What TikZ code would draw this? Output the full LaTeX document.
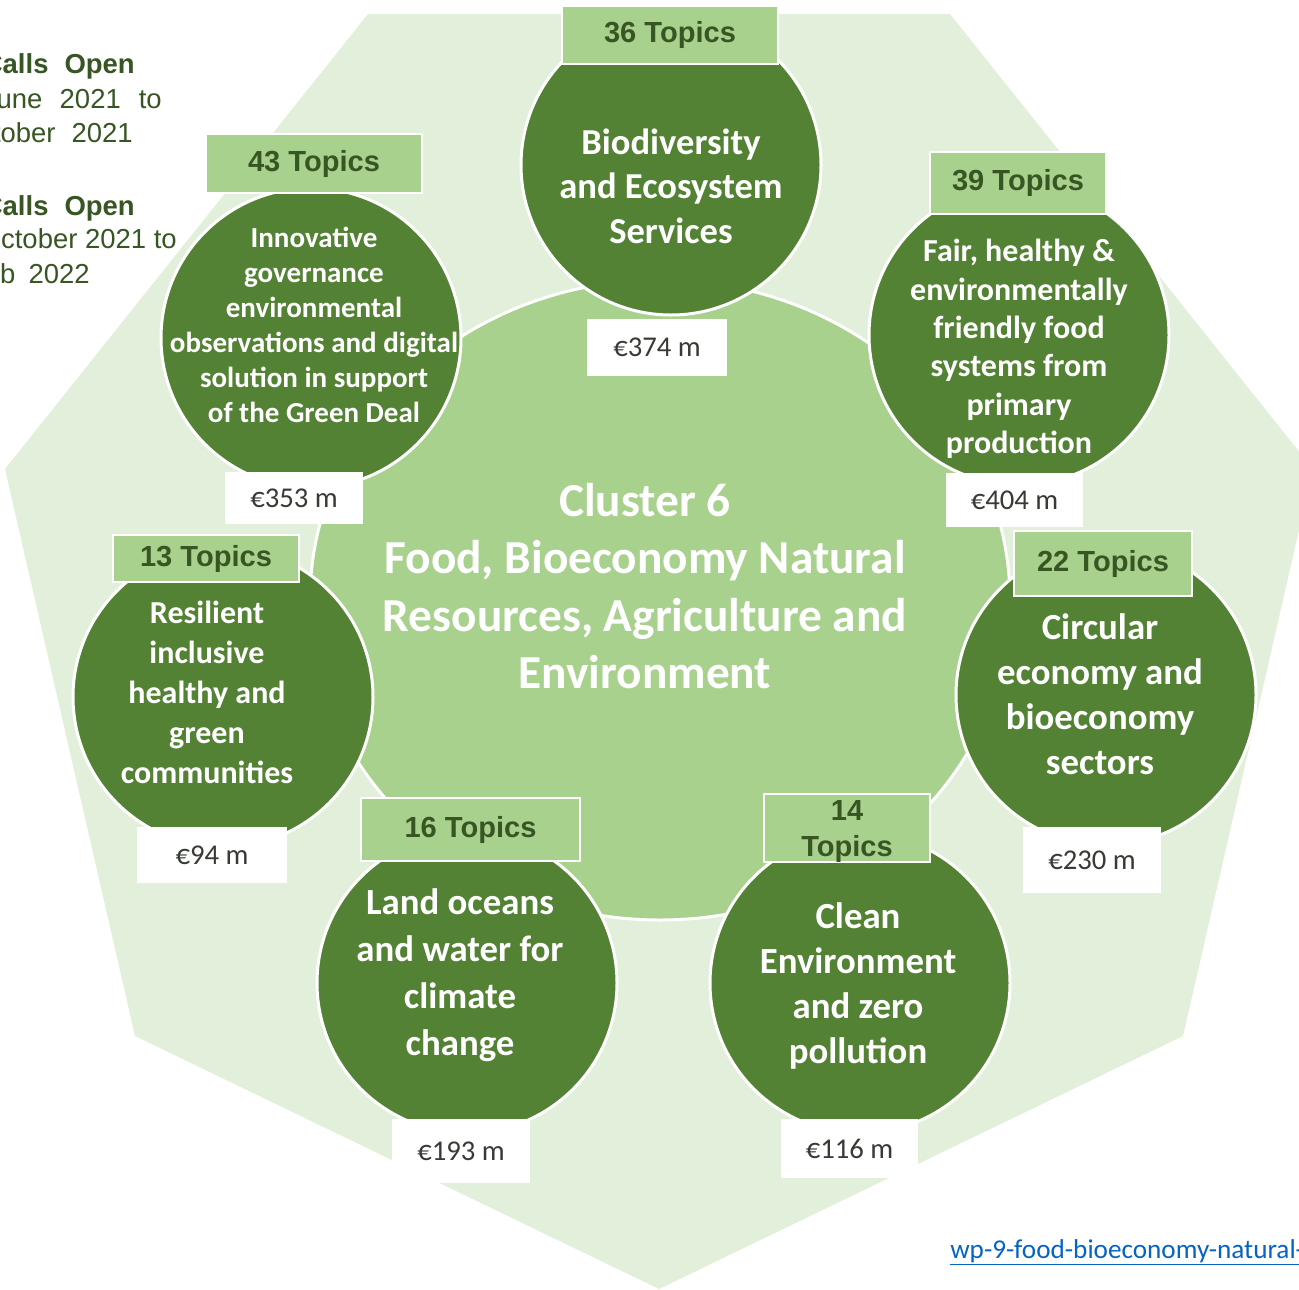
\documentclass[tikz,border=0pt]{standalone}
\usepackage{fontspec}
\setmainfont{Carlito}
\newfontfamily\arialf{Liberation Sans}
\usetikzlibrary{shapes.geometric}
\definecolor{bgl}{HTML}{E2EFDA}
\definecolor{midg}{HTML}{A9D18E}
\definecolor{darkg}{HTML}{548235}
\definecolor{txtg}{HTML}{375623}
\definecolor{moneyc}{HTML}{363B33}
\definecolor{linkc}{HTML}{0563C1}
\newcommand\topicfont{\arialf\bfseries\fontsize{21.8}{27}\selectfont}
\newcommand\moneyfont{\fontsize{21.5}{26}\selectfont}
\newcommand\callsfont{\arialf\fontsize{20.6}{26}\selectfont}
\newcommand\cfont[2]{\bfseries\fontsize{#1}{#2}\selectfont}
\begin{document}
\begin{tikzpicture}[x=0.75pt,y=-0.75pt,
  circ/.style={circle, fill=darkg, draw=white, line width=2.25pt, minimum size=225pt, inner sep=0pt},
  midell/.style={ellipse, fill=midg, draw=white, line width=2.25pt, minimum width=525pt, minimum height=480pt, inner sep=0pt},
  topicbox/.style={rectangle, fill=midg, draw=white, line width=1.6pt, inner sep=0pt, font=\topicfont, text=txtg, align=center},
  moneybox/.style={rectangle, fill=white, inner sep=0pt, font=\moneyfont, text=moneyc},
  ctext/.style={align=center, text=white, inner sep=0pt},
  calls/.style={anchor=base east, text=txtg, inner sep=0pt, font=\callsfont},
]
\useasboundingbox (0,0) rectangle (1299,1289);
\clip (0,0) rectangle (1299,1289);
% background heptagon
\fill[bgl] (368,14) -- (950,14) -- (1313,469) -- (1183,1036) -- (659,1289) -- (135,1036) -- (5,469) -- cycle;
% central shape
\node[midell] (mid) at (660,600) {};
% theme circles
\node[circ] (c1) at (671,165) {};
\node[circ] (c2) at (1019,335) {};
\node[circ] (c3) at (1106,695) {};
\node[circ] (c4) at (860,983) {};
\node[circ] (c5) at (467,983) {};
\node[circ] (c6) at (223,697) {};
\node[circ] (c7) at (311,338) {};
% topic boxes
\node[topicbox, minimum width=216*0.75pt, minimum height=58*0.75pt] (tp1) at (670,35) {36 Topics};
\node[topicbox, minimum width=216*0.75pt, minimum height=59*0.75pt] (tp7) at (314,163.5) {43 Topics};
\node[topicbox, minimum width=176*0.75pt, minimum height=62*0.75pt] (tp2) at (1018,183) {39 Topics};
\node[topicbox, minimum width=178*0.75pt, minimum height=65*0.75pt] (tp3) at (1103,563.5) {22 Topics};
\node[topicbox, minimum width=166*0.75pt, minimum height=68*0.75pt] (tp4) at (847,828) {};
\node[font=\topicfont, text=txtg, align=center, inner sep=0pt] (tp4t) at (847,832) {14\\Topics};
\node[topicbox, minimum width=219*0.75pt, minimum height=63*0.75pt] (tp5) at (470.5,829.5) {16 Topics};
\node[topicbox, minimum width=186*0.75pt, minimum height=47*0.75pt] (tp6) at (206,558.5) {13 Topics};
% money boxes
\node[moneybox, minimum width=140*0.75pt, minimum height=57*0.75pt] (m1) at (657,347.5) {€374 m};
\node[moneybox, minimum width=138*0.75pt, minimum height=52*0.75pt] (m7) at (294,498) {€353 m};
\node[moneybox, minimum width=137*0.75pt, minimum height=54*0.75pt] (m2) at (1014.5,500) {€404 m};
\node[moneybox, minimum width=138*0.75pt, minimum height=66*0.75pt] (m3) at (1092,860) {€230 m};
\node[moneybox, minimum width=137*0.75pt, minimum height=59*0.75pt] (m4) at (849.5,1148.5) {€116 m};
\node[moneybox, minimum width=138*0.75pt, minimum height=64*0.75pt] (m5) at (461,1151) {€193 m};
\node[moneybox, minimum width=150*0.75pt, minimum height=56*0.75pt] (m6) at (212,855) {€94 m};
% circle texts
\node[ctext, font=\cfont{27.4}{33.4}] (t1) at (671,186) {Biodiversity\\and Ecosystem\\Services};
\node[ctext, font=\cfont{24}{28.8}] (t2) at (1019,349) {Fair, healthy \&\\environmentally\\friendly food\\systems from\\primary\\production};
\node[ctext, font=\cfont{27.6}{33.75}] (t3) at (1100,694) {Circular\\economy and\\bioeconomy\\sectors};
\node[ctext, font=\cfont{27.6}{33.75}] (t4) at (858,985.5) {Clean\\Environment\\and zero\\pollution};
\node[ctext, font=\cfont{27.6}{35.25}] (t5) at (460,975.5) {Land oceans\\and water for\\climate\\change};
\node[ctext, font=\cfont{24}{30}] (t6) at (207,692) {Resilient\\inclusive\\healthy and\\green\\communities};
\node[ctext, font=\cfont{21.75}{26.25}] (t7) at (314,325) {Innovative\\governance\\environmental\\observations and digital\\solution in support\\of the Green Deal};
% centre text
\node[ctext, font=\cfont{35.5}{43.1}] (ctr) at (645,586) {Cluster 6\\Food, Bioeconomy Natural\\Resources, Agriculture and\\Environment};
% left text (cut at the page edge, as in the reference)
\node[calls, font=\callsfont\bfseries] (l1) at (135,73) {Calls\hspace{12pt}Open};
\node[calls] (l2) at (162,108) {June\hspace{13pt}2021\hspace{13.5pt}to};
\node[calls] (l3) at (133,142) {October\hspace{12pt}2021};
\node[calls, font=\callsfont\bfseries] (l4) at (135,215) {Calls\hspace{12pt}Open};
\node[calls] (l5) at (177,248) {October 2021 to};
\node[calls] (l6) at (90,283) {Feb\hspace{10pt}2022};
% link
\node[anchor=base west, inner sep=0pt, text=linkc, font=\fontsize{20.4}{24}\selectfont] (lnk) at (950,1258) {\underline{wp-9-food-bioeconomy-natural-resources}};
\end{tikzpicture}
\end{document}
